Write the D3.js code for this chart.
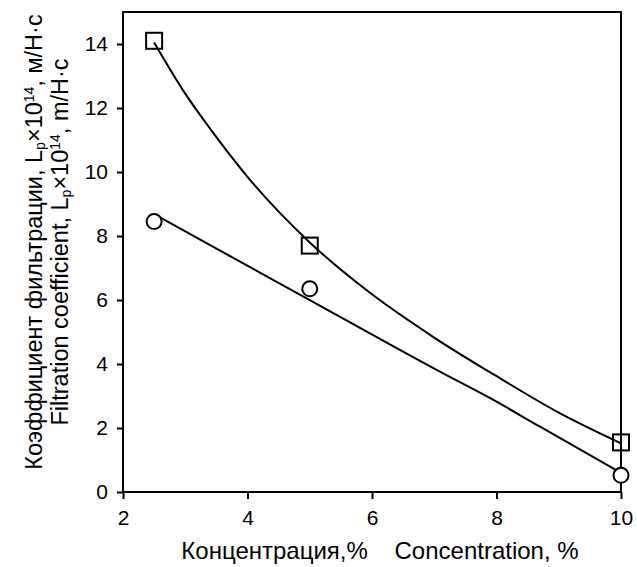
<!DOCTYPE html>
<html>
<head>
<meta charset="utf-8">
<script src="https://cdn.jsdelivr.net/npm/d3@7"></script>
<style>
  body { margin: 0; background: #fff; }
  text { font-family: "Liberation Sans", Arial, sans-serif; fill: #000; }
</style>
</head>
<body>
<script>
// measured points
var conc = [2.5, 5, 10];
var lpSquare = [14.1, 7.7, 1.55];
var lpCircle = [8.45, 6.35, 0.52];

// fitted curves
var fitSquareX = [2.5, 3.0, 3.42, 4.0, 5.0, 5.91, 6.98, 8.06, 9.0, 10];
var fitSquareY = [14.05, 12.45, 11.3, 9.85, 7.8, 6.31, 4.85, 3.55, 2.48, 1.52];
var fitCircleX = [2.5, 4.95, 7.09, 7.9, 8.7, 10];
var fitCircleY = [8.68, 6.05, 3.76, 2.93, 2.04, 0.6];

var xTicks = [2, 4, 6, 8, 10];
var yTicks = [0, 2, 4, 6, 8, 10, 12, 14];

var width = 637, height = 567;
var margin = { top: 12, right: 16, bottom: 75, left: 123 };

var svg = d3.select("body").append("svg")
    .attr("width", width)
    .attr("height", height);

var x = d3.scaleLinear().domain([2, 10]).range([margin.left, width - margin.right]);
var y = d3.scaleLinear().domain([0, 15]).range([height - margin.bottom, margin.top]);

// axes
var xAxis = svg.append("g")
    .attr("transform", "translate(0," + y(0) + ")")
    .call(d3.axisBottom(x).tickValues(xTicks).tickSize(7).tickPadding(11).tickFormat(d3.format("d")));
var yAxis = svg.append("g")
    .attr("transform", "translate(" + x(2) + ",0)")
    .call(d3.axisLeft(y).tickValues(yTicks).tickSize(6).tickPadding(9).tickFormat(d3.format("d")));

[xAxis, yAxis].forEach(function(a) {
    a.attr("font-size", null);
    a.select(".domain").remove();
    a.selectAll(".tick line").attr("stroke", "#000").attr("stroke-width", 2);
    a.selectAll(".tick text")
        .style("font-size", "21px")
        .style("font-family", "Liberation Sans, Arial, sans-serif");
});

// frame
svg.append("rect")
    .attr("x", x(2))
    .attr("y", y(15))
    .attr("width", x(10) - x(2))
    .attr("height", y(0) - y(15))
    .attr("fill", "none")
    .attr("stroke", "#000")
    .attr("stroke-width", 2);

// curves
var line = d3.line()
    .x(function(d) { return x(d[0]); })
    .y(function(d) { return y(d[1]); })
    .curve(d3.curveMonotoneX);

svg.append("path")
    .datum(d3.zip(fitSquareX, fitSquareY))
    .attr("d", line)
    .attr("fill", "none")
    .attr("stroke", "#000")
    .attr("stroke-width", 2);

svg.append("path")
    .datum(d3.zip(fitCircleX, fitCircleY))
    .attr("d", line)
    .attr("fill", "none")
    .attr("stroke", "#000")
    .attr("stroke-width", 2);

// markers
var sq = 16;
svg.selectAll(".sq")
    .data(d3.zip(conc, lpSquare))
    .enter().append("rect")
    .attr("class", "sq")
    .attr("x", function(d) { return x(d[0]) - sq / 2; })
    .attr("y", function(d) { return y(d[1]) - sq / 2; })
    .attr("width", sq)
    .attr("height", sq)
    .attr("fill", "none")
    .attr("stroke", "#000")
    .attr("stroke-width", 2);

svg.selectAll(".ci")
    .data(d3.zip(conc, lpCircle))
    .enter().append("circle")
    .attr("class", "ci")
    .attr("cx", function(d) { return x(d[0]); })
    .attr("cy", function(d) { return y(d[1]); })
    .attr("r", 7.5)
    .attr("fill", "#fff")
    .attr("stroke", "#000")
    .attr("stroke-width", 2);

// x title
svg.append("text")
    .attr("x", 380)
    .attr("y", 559)
    .attr("text-anchor", "middle")
    .style("font-size", "24px")
    .style("white-space", "pre")
    .text("Концентрация,%    Concentration, %");

// y title, two lines
function yTitle(tx, parts) {
    var t = svg.append("text")
        .attr("transform", "translate(" + tx + "," + 242 + ") rotate(-90)")
        .attr("text-anchor", "middle")
        .style("font-size", "23.5px");
    parts.forEach(function(p) {
        var s = t.append("tspan").text(p[0]);
        if (p[1] === "sub") s.style("font-size", "14px").attr("baseline-shift", "-3");
        if (p[1] === "sup") s.style("font-size", "14px").attr("baseline-shift", "8");
    });
}
yTitle(42, [["Коэффициент фильтрации, L"], ["p", "sub"], ["×10"], ["14", "sup"], [",  м/Н·с"]]);
yTitle(68, [["Filtration coefficient, L"], ["p", "sub"], ["×10"], ["14", "sup"], [",  m/H·c"]]);
</script>
</body>
</html>
